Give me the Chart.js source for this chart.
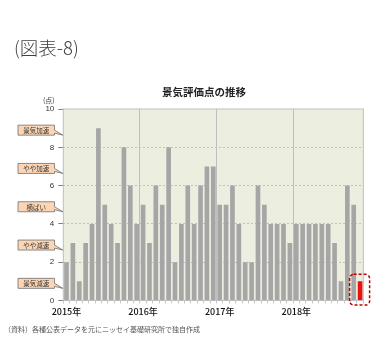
<!DOCTYPE html>
<html>
<head>
<meta charset="utf-8">
<script src="https://cdn.jsdelivr.net/npm/chart.js@4"></script>
<style>
  body { margin: 0; background: #fff; }
  #wrap { position: relative; width: 391px; height: 350px; }
  #wrap canvas { position: absolute; left: 0; top: 0; }
  .txt { position: absolute; white-space: nowrap; font-family: 'Noto Sans CJK JP', sans-serif; line-height: 1; }
  #fig { left: 14px; top: 38px; font-size: 18.5px; font-weight: 300; color: #404040; }
  #title { left: 162px; top: 87px; font-size: 10.5px; font-weight: 700; color: #222; }
  #unit { left: 43px; top: 97px; font-size: 7px; color: #333; }
  #src { left: 4px; top: 326px; font-size: 7px; color: #555; }
</style>
</head>
<body>
<div id="wrap">
  <canvas id="scoreChart" width="391" height="350"></canvas>
  <div class="txt" id="fig">(図表-8)</div>
  <div class="txt" id="title">景気評価点の推移</div>
  <div class="txt" id="unit">(点)</div>
  <div class="txt" id="src">（資料）各種公表データを元にニッセイ基礎研究所で独自作成</div>
</div>
<script>
const years = ['2015', '2016', '2017', '2018'];
const scores2015 = [2, 3, 1, 3, 4, 9, 5, 4, 3, 8, 6, 4];
const scores2016 = [5, 3, 6, 5, 8, 2, 4, 6, 4, 6, 7, 7];
const scores2017 = [5, 5, 6, 4, 2, 2, 6, 5, 4, 4, 4, 3];
const scores2018 = [4, 4, 4, 4, 4, 4, 3, 1, 6, 5, 1];
const zoneLabels = ['景気加速', 'やや加速', '横ばい', 'やや減速', '景気減速'];
const zoneValues = [9, 7, 5, 3, 1];

const yearScores = [scores2015, scores2016, scores2017, scores2018];
let categories = [];
let scores = [];
yearScores.forEach((arr, yi) => {
    arr.forEach((v, mi) => {
        categories.push(years[yi] + '/' + (mi + 1));
        scores.push(v);
    });
});
const lastIdx = scores.length - 1;
const barColors = scores.map((v, i) => i === lastIdx ? '#E8120F' : '#A6A6A6');

const plotPlugin = {
    id: 'plotDecor',
    beforeDraw(chart) {
        const { ctx, chartArea: a } = chart;
        ctx.save();
        ctx.fillStyle = '#ECEEDF';
        ctx.fillRect(a.left, a.top, a.right - a.left, a.bottom - a.top);
        ctx.restore();
    },
    afterDatasetsDraw(chart) {
        const { ctx, chartArea: a } = chart;
        const yScale = chart.scales.y;
        ctx.save();
        // frame
        ctx.strokeStyle = '#BFBFBF';
        ctx.lineWidth = 1;
        ctx.strokeRect(a.left, a.top, a.right - a.left, a.bottom - a.top);

        // red dashed box round the latest bar
        const bar = chart.getDatasetMeta(0).data[lastIdx];
        ctx.strokeStyle = '#C00000';
        ctx.lineWidth = 1.5;
        ctx.setLineDash([3, 2]);
        ctx.beginPath();
        ctx.roundRect(bar.x - 10.5, bar.y - 7, 20, a.bottom - bar.y + 11.5, 4);
        ctx.stroke();
        ctx.setLineDash([]);

        // callouts on the left
        zoneLabels.forEach((label, i) => {
            const cy = yScale.getPixelForValue(zoneValues[i]) + 2;
            const x0 = 18, x1 = 54.5, h = 10;
            ctx.beginPath();
            ctx.moveTo(x0, cy - h / 2);
            ctx.lineTo(x1, cy - h / 2);
            ctx.lineTo(x1, cy);
            ctx.lineTo(a.left - 0.5, cy + 5);
            ctx.lineTo(x1, cy + 3);
            ctx.lineTo(x1, cy + h / 2);
            ctx.lineTo(x0, cy + h / 2);
            ctx.closePath();
            ctx.fillStyle = '#FBD5B5';
            ctx.fill();
            ctx.strokeStyle = '#6E6E6E';
            ctx.lineWidth = 0.8;
            ctx.stroke();
            ctx.fillStyle = '#333';
            ctx.font = "6.5px 'Noto Sans CJK JP'";
            ctx.textAlign = 'center';
            ctx.textBaseline = 'middle';
            ctx.fillText(label, (x0 + x1) / 2, cy + 0.5);
        });
        ctx.restore();
    }
};

new Chart(document.getElementById('scoreChart'), {
    type: 'bar',
    data: {
        labels: categories,
        datasets: [{
            data: scores,
            backgroundColor: barColors,
            borderWidth: 0,
            barPercentage: 0.73,
            categoryPercentage: 1.0
        }]
    },
    options: {
        responsive: false,
        animation: false,
        events: [],
        layout: { padding: { left: 0, top: 109, right: 27.7, bottom: 29.5 } },
        plugins: {
            legend: { display: false },
            tooltip: { enabled: false }
        },
        scales: {
            x: {
                afterFit: (s) => { s.height = 20; },
                border: { display: false },
                grid: {
                    offset: true,
                    color: (c) => {
                        const i = c.index;
                        return (i > 0 && i < categories.length && categories[i].endsWith('/1')) ? '#BFBFBF' : 'rgba(0,0,0,0)';
                    },
                    tickColor: '#C8C8C8',
                    tickLength: 3
                },
                ticks: {
                    autoSkip: false,
                    maxRotation: 0,
                    padding: 3,
                    color: '#111',
                    font: { family: "'Noto Sans CJK JP'", size: 9, weight: '500' },
                    callback: function (val) {
                        const lab = categories[val];
                        return lab.endsWith('/1') ? lab.split('/')[0] + '年' : '';
                    }
                }
            },
            y: {
                min: 0,
                max: 10,
                afterFit: (s) => { s.width = 63.3; },
                border: { display: false, dash: [2, 2] },
                grid: {
                    color: (c) => (c.tick && c.tick.value > 0 && c.tick.value < 10) ? '#C0C0C0' : 'rgba(0,0,0,0)',
                    tickColor: '#808080',
                    tickLength: 5
                },
                ticks: {
                    stepSize: 2,
                    padding: 4,
                    color: '#333',
                    font: { family: "'Liberation Sans'", size: 8 }
                }
            }
        }
    },
    plugins: [plotPlugin]
});
</script>
</body>
</html>
